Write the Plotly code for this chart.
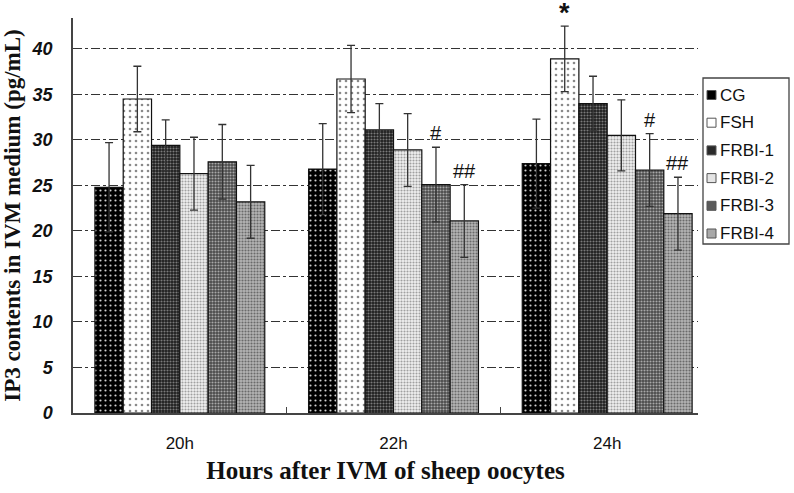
import plotly.graph_objects as go

hours = ['20h', '22h', '24h']
groups = ['CG', 'FSH', 'FRBI-1', 'FRBI-2', 'FRBI-3', 'FRBI-4']

means = {
    'CG':     [24.8, 26.8, 27.4],
    'FSH':    [34.5, 36.7, 38.9],
    'FRBI-1': [29.4, 31.1, 34.0],
    'FRBI-2': [26.3, 28.9, 30.5],
    'FRBI-3': [27.6, 25.1, 26.7],
    'FRBI-4': [23.2, 21.1, 21.9],
}
errors = {
    'CG':     [4.9, 5.0, 4.9],
    'FSH':    [3.6, 3.7, 3.6],
    'FRBI-1': [2.8, 2.9, 3.0],
    'FRBI-2': [4.0, 4.0, 3.9],
    'FRBI-3': [4.1, 4.1, 4.0],
    'FRBI-4': [4.0, 4.0, 4.0],
}
# significance marks: (hour, group, text)
marks = [('24h', 'FSH', '*'), ('22h', 'FRBI-3', '#'), ('22h', 'FRBI-4', '##'),
         ('24h', 'FRBI-3', '#'), ('24h', 'FRBI-4', '##')]

# fill look for each group: background, dot colour, dot size, solidity
patterns = {
    'CG':     dict(bgcolor='#000000', fgcolor='#d0d0d0', size=5, solidity=0.15),
    'FSH':    dict(bgcolor='#ffffff', fgcolor='#8a8a8a', size=6, solidity=0.15),
    'FRBI-1': dict(bgcolor='#1e1e1e', fgcolor='#7a7a7a', size=3, solidity=0.4),
    'FRBI-2': dict(bgcolor='#f0f0f0', fgcolor='#a0a0a0', size=3, solidity=0.4),
    'FRBI-3': dict(bgcolor='#4a4a4a', fgcolor='#a8a8a8', size=3, solidity=0.4),
    'FRBI-4': dict(bgcolor='#b4b4b4', fgcolor='#6a6a6a', size=3, solidity=0.4),
}
# legend swatch colour per group
swatch = {'CG': '#000000', 'FSH': '#ffffff', 'FRBI-1': '#2a2a2a',
          'FRBI-2': '#e4e4e4', 'FRBI-3': '#5a5a5a', 'FRBI-4': '#a8a8a8'}

fig = go.Figure()
for g in groups:
    p = patterns[g]
    fig.add_trace(go.Bar(
        x=hours, y=means[g], name=g, showlegend=False,
        marker=dict(color=p['bgcolor'], line=dict(color='#111111', width=1.2),
                    pattern=dict(shape='.', fgcolor=p['fgcolor'], bgcolor=p['bgcolor'],
                                 size=p['size'], solidity=p['solidity'], fillmode='replace')),
        error_y=dict(type='data', array=errors[g], color='#333333', thickness=1.3, width=4),
    ))

ngroups = len(groups)
for h, g, txt in marks:
    hi = hours.index(h)
    gi = groups.index(g)
    top = means[g][hi] + errors[g][hi]
    star = txt == '*'
    fig.add_annotation(x=h, y=top, text='<b>*</b>' if star else txt, showarrow=False,
                       yanchor='bottom', yshift=-4 if star else 1,
                       xshift=(gi - (ngroups - 1) / 2) * 28.3,
                       font=dict(family='Liberation Sans, Arial', size=27 if star else 20,
                                 color='#111111'))

W, H = 794, 493
ML, MR, MT, MB = 73, 96, 18, 80
pw, ph = W - ML - MR, H - MT - MB


def px_x(x):
    return (x - ML) / pw


def px_y(y):
    return 1 - (y - MT) / ph


# hand-made legend box (plotly's own legend is too wide for the space)
fig.add_shape(type='rect', xref='paper', yref='paper',
              x0=px_x(703), x1=px_x(789), y0=px_y(244), y1=px_y(78),
              line=dict(color='#444444', width=1.3), fillcolor='white')
for i, g in enumerate(groups):
    yc = 95 + i * 27.7
    fig.add_shape(type='rect', xref='paper', yref='paper',
                  x0=px_x(707), x1=px_x(716), y0=px_y(yc + 4.5), y1=px_y(yc - 4.5),
                  line=dict(color='#555555', width=1), fillcolor=swatch[g])
    fig.add_annotation(xref='paper', yref='paper', x=px_x(718), y=px_y(yc), xanchor='left', yanchor='middle',
                       text=g, showarrow=False,
                       font=dict(family='Liberation Sans, Arial', size=17, color='#111111'))

fig.update_layout(
    width=W, height=H, barmode='group', bargap=0.205, bargroupgap=0,
    plot_bgcolor='white', paper_bgcolor='white', showlegend=False,
    margin=dict(l=ML, r=MR, t=MT, b=MB, autoexpand=False),
)
fig.update_xaxes(range=[-0.5, 2.425], showline=True, linecolor='#444444', linewidth=1.5,
                 automargin=False,
                 ticks='inside', tickson='boundaries', ticklen=6, tickcolor='#444444',
                 ticklabelstandoff=14,
                 tickfont=dict(family='Liberation Sans, Arial', size=17, color='#111111'),
                 title=dict(text='<b>Hours after IVM of sheep oocytes</b>', standoff=9,
                            font=dict(family='Liberation Serif, Times New Roman', size=25, color='#111111')))
fig.update_yaxes(range=[0, 43.4], dtick=5, showline=True, linecolor='#444444', linewidth=1.5,
                 automargin=False,
                 showgrid=True, gridcolor='#333333', gridwidth=1.2, griddash='dashdot',
                 zeroline=False, ticks='', ticklabelstandoff=15,
                 tickfont=dict(family='Liberation Sans, Arial', size=18, color='#111111',
                               style='italic', weight='bold'),
                 title=dict(text='<b>IP3 contents in IVM medium (pg/mL)</b>', standoff=8,
                            font=dict(family='Liberation Serif, Times New Roman', size=23, color='#111111')))

# drop the browser's default 8px body margin so the figure fills the window
fig.write_html('out.html', config={'displayModeBar': False},
               post_script="document.body.style.margin='0';")
